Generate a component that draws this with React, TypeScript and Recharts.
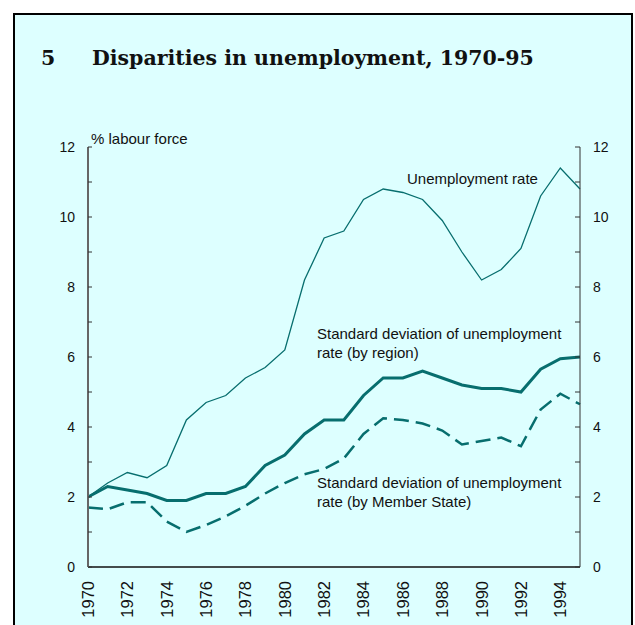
import { LineChart, Line, XAxis, YAxis } from "recharts";

// values, % of labour force
const years = [
  1970, 1971, 1972, 1973, 1974, 1975, 1976, 1977, 1978, 1979, 1980, 1981, 1982,
  1983, 1984, 1985, 1986, 1987, 1988, 1989, 1990, 1991, 1992, 1993, 1994, 1995,
];
const unemploymentRate = [
  2.0, 2.4, 2.7, 2.55, 2.9, 4.2, 4.7, 4.9, 5.4, 5.7, 6.2, 8.2, 9.4, 9.6, 10.5,
  10.8, 10.7, 10.5, 9.9, 9.0, 8.2, 8.5, 9.1, 10.6, 11.4, 10.8,
];
const sdRegion = [
  2.0, 2.3, 2.2, 2.1, 1.9, 1.9, 2.1, 2.1, 2.3, 2.9, 3.2, 3.8, 4.2, 4.2, 4.9, 5.4,
  5.4, 5.6, 5.4, 5.2, 5.1, 5.1, 5.0, 5.65, 5.95, 6.0,
];
const sdMemberState = [
  1.7, 1.65, 1.85, 1.85, 1.3, 1.0, 1.2, 1.45, 1.75, 2.1, 2.4, 2.65, 2.8, 3.1,
  3.8, 4.25, 4.2, 4.1, 3.9, 3.5, 3.6, 3.7, 3.45, 4.5, 4.95, 4.65,
];
const yTicks = [0, 1, 2, 3, 4, 5, 6, 7, 8, 9, 10, 11, 12];
const xTicks = [1970, 1972, 1974, 1976, 1978, 1980, 1982, 1984, 1986, 1988, 1990, 1992, 1994];

const data = years.map((year, i) => ({
  year,
  rate: unemploymentRate[i],
  region: sdRegion[i],
  member: sdMemberState[i],
}));

const TEAL = "#076e6e";
const SANS = "'Liberation Sans', Arial, sans-serif";

function fmtY(v: number): string {
  // only even values get a label, odd ones are bare ticks
  return v % 2 === 0 ? String(v) : "";
}

function YearTick(props: any) {
  const { x, y, payload } = props;
  return (
    <text
      x={x}
      y={y}
      transform={`rotate(-90 ${x} ${y})`}
      textAnchor="end"
      dy="0.36em"
      fontSize={16.5}
      fontFamily={SANS}
      fill="#111"
    >
      {payload.value}
    </text>
  );
}

const note = (left: number, top: number): React.CSSProperties => ({
  position: "absolute",
  left,
  top,
  fontFamily: SANS,
  fontSize: 15,
  lineHeight: "19px",
  color: "#111",
  whiteSpace: "nowrap",
});

export default function App() {
  return (
    <div style={{ position: "fixed", left: 0, top: 0, width: 635, height: 625, background: "#fff", overflow: "hidden" }}>
      <div
        style={{
          position: "absolute",
          left: 13,
          top: 13,
          width: 620,
          height: 640,
          boxSizing: "border-box",
          border: "2px solid #000",
          background: "#ddffff",
        }}
      />
      <div
        style={{
          position: "absolute",
          left: 41,
          top: 46,
          fontFamily: "'DejaVu Serif', serif",
          fontWeight: 700,
          fontSize: 20.5,
          lineHeight: "24px",
          color: "#111",
          whiteSpace: "nowrap",
        }}
      >
        <span>5</span>
        <span style={{ position: "absolute", left: 51 }}>Disparities in unemployment, 1970-95</span>
      </div>

      <div style={{ position: "absolute", left: 0, top: 0 }}>
        <LineChart width={635} height={625} data={data} margin={{ top: 147, right: 15, bottom: 18, left: 48 }}>
          <XAxis
            dataKey="year"
            type="number"
            domain={[1970, 1995]}
            ticks={xTicks}
            interval={0}
            height={40}
            tickLine={false}
            tickSize={0}
            tickMargin={14}
            tick={<YearTick />}
            axisLine={{ stroke: "#111", strokeWidth: 1.5 }}
          />
          <YAxis
            yAxisId="left"
            orientation="left"
            width={40}
            domain={[0, 12]}
            ticks={yTicks}
            interval={0}
            tickFormatter={fmtY}
            tickSize={-4}
            tickMargin={17}
            tick={{ fontSize: 14, fontFamily: SANS, fill: "#111" }}
            tickLine={{ stroke: "#333" }}
            axisLine={{ stroke: "#666", strokeWidth: 2 }}
          />
          <YAxis
            yAxisId="right"
            orientation="right"
            width={40}
            domain={[0, 12]}
            ticks={yTicks}
            interval={0}
            tickFormatter={fmtY}
            tickSize={-5}
            tickMargin={18}
            tick={{ fontSize: 14, fontFamily: SANS, fill: "#111" }}
            tickLine={{ stroke: "#333" }}
            axisLine={{ stroke: "#333", strokeWidth: 1 }}
          />
          <Line
            yAxisId="right"
            dataKey="rate"
            type="linear"
            stroke={TEAL}
            strokeWidth={1.3}
            dot={false}
            isAnimationActive={false}
          />
          <Line
            yAxisId="left"
            dataKey="region"
            type="linear"
            stroke={TEAL}
            strokeWidth={3}
            dot={false}
            isAnimationActive={false}
          />
          <Line
            yAxisId="left"
            dataKey="member"
            type="linear"
            stroke={TEAL}
            strokeWidth={2.5}
            strokeDasharray="15 7"
            dot={false}
            isAnimationActive={false}
          />
        </LineChart>
      </div>

      <div style={note(91, 129)}>% labour force</div>
      <div style={note(407, 169)}>Unemployment rate</div>
      <div style={note(317, 324)}>
        Standard deviation of unemployment
        <br />
        rate (by region)
      </div>
      <div style={note(317, 473)}>
        Standard deviation of unemployment
        <br />
        rate (by Member State)
      </div>
    </div>
  );
}
